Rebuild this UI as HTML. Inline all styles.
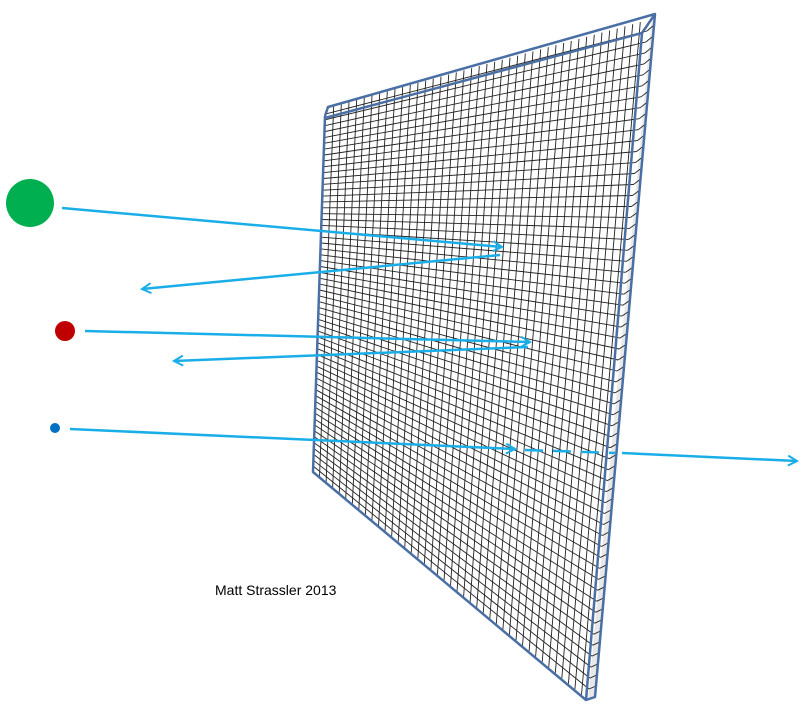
<!DOCTYPE html>
<html><head><meta charset="utf-8"><style>
html,body{margin:0;padding:0;background:#fff;width:803px;height:708px;overflow:hidden}
svg{position:absolute;left:0;top:0}
.t{position:absolute;left:215px;top:582px;font:14px "Liberation Sans",sans-serif;color:#000}
</style></head><body>
<svg width="803" height="708" viewBox="0 0 803 708">
<defs><marker id="a" markerWidth="12" markerHeight="12" refX="10" refY="6" orient="auto" markerUnits="userSpaceOnUse"><path d="M1,1 L10,6 L1,11" fill="none" stroke="#1aaee8" stroke-width="2"/></marker></defs>
<polygon points="642,33 655,14 595,697 586,700" fill="#e8e8e8"/>
<polygon points="326,108 652,15 588,700 313,472" fill="#fff"/>
<g id="grid" stroke="#222" stroke-width="0.9" fill="none"></g>
<g stroke="#4a6fa5" stroke-width="2.5" fill="none" stroke-linejoin="round">
<polyline points="325,116 328,107 655,14 595,697 586,700 313,472 325,116"/>
<line x1="325" y1="118" x2="642" y2="33"/>
<line x1="642" y1="33" x2="655" y2="14"/>
<line x1="642" y1="33" x2="586" y2="700"/>
</g>
<circle cx="30" cy="203" r="24" fill="#00b050"/>
<circle cx="65" cy="331" r="10" fill="#c00000"/>
<circle cx="55" cy="428" r="5" fill="#0070c0"/>
<g stroke="#1aaee8" stroke-width="2.5" fill="none">
<line x1="62" y1="208" x2="502" y2="247" marker-end="url(#a)"/>
<line x1="500" y1="255" x2="142" y2="289" marker-end="url(#a)"/>
<line x1="85" y1="331" x2="530" y2="342" marker-end="url(#a)"/>
<line x1="528" y1="347" x2="174" y2="361" marker-end="url(#a)"/>
<line x1="70" y1="429" x2="515" y2="449" marker-end="url(#a)"/>
<line x1="525" y1="450" x2="615" y2="453" stroke-dasharray="18,10"/>
<line x1="622" y1="453" x2="797" y2="461" marker-end="url(#a)"/>
</g>
</svg>
<div class="t">Matt Strassler 2013</div>
<script>
var g=document.getElementById('grid'),s='';
var TL=[326,108],TR=[648,20],BR=[588,700],BL=[313,472];
function P(u,v){var x=(1-u)*(1-v)*TL[0]+u*(1-v)*TR[0]+u*v*BR[0]+(1-u)*v*BL[0];var y=(1-u)*(1-v)*TL[1]+u*(1-v)*TR[1]+u*v*BR[1]+(1-u)*v*BL[1];return [x.toFixed(1),y.toFixed(1)];}
function L(a,b){s+='<line x1="'+a[0]+'" y1="'+a[1]+'" x2="'+b[0]+'" y2="'+b[1]+'"/>';}
var C=42,R=62;
for(var i=1;i<C;i++){L(P(i/C,0),P(i/C,1));}
for(var j=1;j<R;j++){L(P(0,j/R),P(1,j/R));}
for(var j=1;j<R;j++){var a=P(1,j/R),t=j/R;L(a,[655+(595-655)*t,14+(697-14)*t]);}
g.innerHTML=s;
</script>
</body></html>
